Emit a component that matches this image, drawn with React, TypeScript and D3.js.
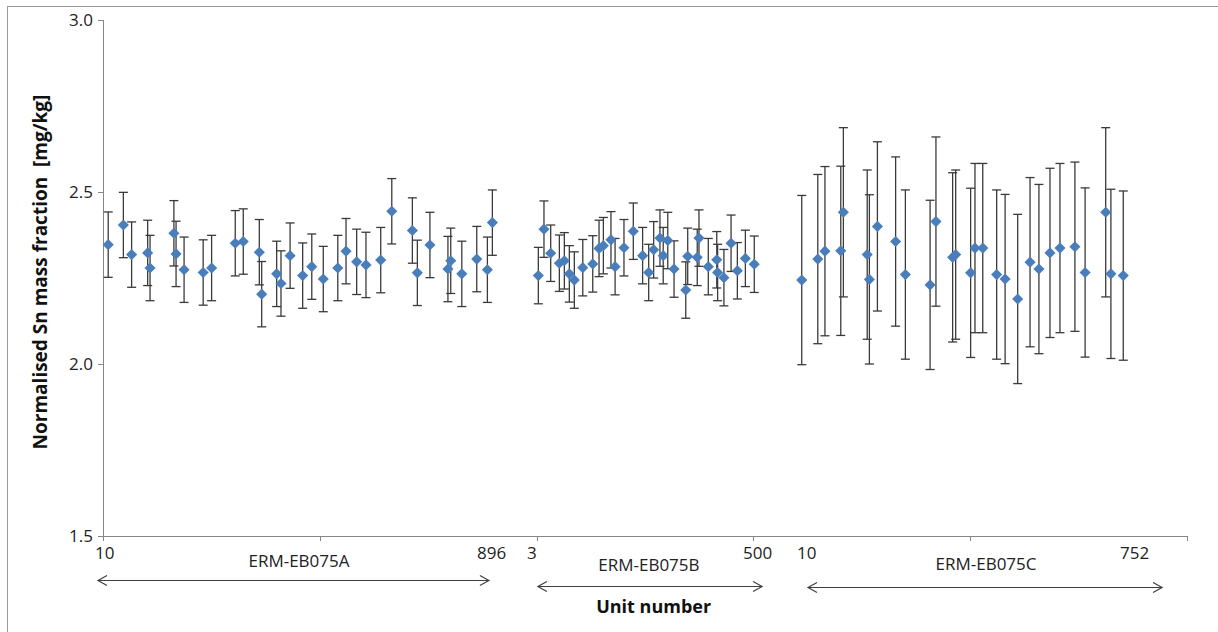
import React, { useRef, useEffect } from "react";
import * as d3 from "d3";

// x positions are in axis units (0..5), y values in mg/kg
const xA = [0.024, 0.094, 0.132, 0.206, 0.217, 0.327, 0.337, 0.374, 0.462, 0.501, 0.61, 0.647, 0.721, 0.732, 0.801, 0.821, 0.863, 0.921, 0.963, 1.016, 1.083, 1.121, 1.17, 1.213, 1.281, 1.332, 1.427, 1.45, 1.508, 1.591, 1.604, 1.655, 1.724, 1.773, 1.796];
const yA = [2.347, 2.404, 2.318, 2.323, 2.279, 2.38, 2.32, 2.274, 2.266, 2.279, 2.351, 2.356, 2.325, 2.203, 2.262, 2.234, 2.315, 2.257, 2.283, 2.247, 2.279, 2.328, 2.297, 2.288, 2.302, 2.444, 2.388, 2.265, 2.346, 2.276, 2.3, 2.262, 2.305, 2.274, 2.411];

const xB = [2.008, 2.034, 2.065, 2.105, 2.128, 2.151, 2.174, 2.213, 2.259, 2.288, 2.308, 2.343, 2.362, 2.403, 2.446, 2.489, 2.517, 2.54, 2.569, 2.584, 2.605, 2.634, 2.688, 2.697, 2.741, 2.749, 2.792, 2.831, 2.835, 2.864, 2.897, 2.926, 2.963, 3.004];
const yB = [2.257, 2.392, 2.322, 2.293, 2.3, 2.262, 2.244, 2.28, 2.291, 2.336, 2.344, 2.361, 2.283, 2.338, 2.386, 2.315, 2.266, 2.332, 2.366, 2.315, 2.359, 2.276, 2.215, 2.313, 2.31, 2.366, 2.283, 2.303, 2.266, 2.251, 2.351, 2.271, 2.307, 2.29];

const xC = [3.223, 3.297, 3.33, 3.403, 3.415, 3.525, 3.535, 3.572, 3.656, 3.701, 3.815, 3.842, 3.919, 3.933, 4.002, 4.022, 4.058, 4.122, 4.161, 4.219, 4.276, 4.317, 4.368, 4.414, 4.483, 4.53, 4.625, 4.649, 4.706];
const yC = [2.244, 2.305, 2.328, 2.329, 2.441, 2.318, 2.246, 2.4, 2.356, 2.26, 2.23, 2.414, 2.31, 2.318, 2.265, 2.337, 2.337, 2.26, 2.247, 2.189, 2.296, 2.276, 2.323, 2.337, 2.341, 2.266, 2.441, 2.262, 2.257];

// uncertainty (half width of error bar) per batch
const errA = 0.095;
const errB = 0.082;
const errC = 0.246;

const yTicks = [1.5, 2.0, 2.5, 3.0];
const xTicks = [0, 1, 2, 3, 4, 5];

const batchNames = ["ERM-EB075A", "ERM-EB075B", "ERM-EB075C"];
const firstUnits = ["10", "3", "10"];
const lastUnits = ["896", "500", "752"];

const App = () => {
  const ref = useRef(null);

  useEffect(() => {
    const svg = d3.select(ref.current);
    svg.selectAll("*").remove();

    const width = 1218;
    const height = 632;
    const font = "'Open Sans', 'Noto Sans', sans-serif";
    const axisColor = "#868686";

    svg.attr("width", width).attr("height", height);

    const x = d3.scaleLinear().domain([0, 5]).range([103, 1187]);
    const y = d3.scaleLinear().domain([1.5, 3.0]).range([536, 20]);

    // chart border
    svg
      .append("rect")
      .attr("x", 7.5)
      .attr("y", 6.5)
      .attr("width", 1300)
      .attr("height", 700)
      .attr("fill", "white")
      .attr("stroke", "#9a9a9a");

    // y axis
    svg
      .append("line")
      .attr("x1", x(0) + 0.5)
      .attr("x2", x(0) + 0.5)
      .attr("y1", y(3.0))
      .attr("y2", y(1.5))
      .attr("stroke", axisColor);

    svg
      .append("g")
      .selectAll("line")
      .data(yTicks)
      .join("line")
      .attr("x1", x(0) - 5)
      .attr("x2", x(0))
      .attr("y1", (d) => Math.round(y(d)) + 0.5)
      .attr("y2", (d) => Math.round(y(d)) + 0.5)
      .attr("stroke", axisColor);

    svg
      .append("g")
      .selectAll("text")
      .data(yTicks)
      .join("text")
      .attr("x", x(0) - 10)
      .attr("y", (d) => y(d))
      .attr("dy", "0.35em")
      .attr("text-anchor", "end")
      .attr("font-family", font)
      .attr("font-size", 17)
      .attr("fill", "#222")
      .text((d) => d.toFixed(1));

    // x axis
    svg
      .append("line")
      .attr("x1", x(0))
      .attr("x2", x(5))
      .attr("y1", y(1.5) + 0.5)
      .attr("y2", y(1.5) + 0.5)
      .attr("stroke", axisColor);

    svg
      .append("g")
      .selectAll("line")
      .data(xTicks)
      .join("line")
      .attr("x1", (d) => Math.round(x(d)) + 0.5)
      .attr("x2", (d) => Math.round(x(d)) + 0.5)
      .attr("y1", y(1.5))
      .attr("y2", y(1.5) + 5)
      .attr("stroke", axisColor);

    const batches = [
      { xs: xA, ys: yA, err: errA },
      { xs: xB, ys: yB, err: errB },
      { xs: xC, ys: yC, err: errC },
    ];

    const points = batches.flatMap((b) =>
      b.xs.map((xv, i) => ({ x: xv, y: b.ys[i], err: b.err }))
    );

    // error bars
    const bars = svg.append("g").attr("stroke", "#3a3a3a").attr("stroke-width", 1.3);
    points.forEach((p) => {
      const cx = x(p.x);
      const top = y(p.y + p.err);
      const bot = y(p.y - p.err);
      bars.append("line").attr("x1", cx).attr("x2", cx).attr("y1", top).attr("y2", bot);
      bars.append("line").attr("x1", cx - 4.5).attr("x2", cx + 4.5).attr("y1", top).attr("y2", top);
      bars.append("line").attr("x1", cx - 4.5).attr("x2", cx + 4.5).attr("y1", bot).attr("y2", bot);
    });

    // diamond markers
    const diamond = d3.symbol().type(d3.symbolSquare).size(62);
    svg
      .append("g")
      .selectAll("path")
      .data(points)
      .join("path")
      .attr("d", diamond)
      .attr("transform", (d) => `translate(${x(d.x)},${y(d.y)}) rotate(45)`)
      .attr("fill", "#4a7ebb");

    // batch annotations below the axis
    const notes = [
      { first: -0.037, last: 1.725, mid: 0.904, a0: -0.023, a1: 1.78, labelY: 567, arrowY: 580 },
      { first: 1.956, last: 2.952, mid: 2.518, a0: 2.006, a1: 3.04, labelY: 571, arrowY: 586 },
      { first: 3.201, last: 4.691, mid: 4.073, a0: 3.252, a1: 4.885, labelY: 570, arrowY: 587 },
    ];

    const ann = svg.append("g").attr("font-family", font).attr("font-size", 17).attr("fill", "#222");
    notes.forEach((n, i) => {
      ann.append("text").attr("x", x(n.first)).attr("y", 559).text(firstUnits[i]);
      ann.append("text").attr("x", x(n.last)).attr("y", 559).text(lastUnits[i]);
      ann
        .append("text")
        .attr("x", x(n.mid))
        .attr("y", n.labelY)
        .attr("text-anchor", "middle")
        .text(batchNames[i]);

      const x0 = x(n.a0);
      const x1 = x(n.a1);
      const ay = n.arrowY + 0.5;
      const g = svg.append("g").attr("stroke", "#404040").attr("fill", "none").attr("stroke-width", 1.2);
      g.append("line").attr("x1", x0).attr("x2", x1).attr("y1", ay).attr("y2", ay);
      g.append("path").attr("d", `M${x0 + 9},${ay - 5}L${x0},${ay}L${x0 + 9},${ay + 5}`);
      g.append("path").attr("d", `M${x1 - 9},${ay - 5}L${x1},${ay}L${x1 - 9},${ay + 5}`);
    });

    // axis titles
    svg
      .append("text")
      .attr("x", x(2.54))
      .attr("y", 613)
      .attr("text-anchor", "middle")
      .attr("font-family", font)
      .attr("font-size", 18)
      .attr("font-weight", "bold")
      .attr("fill", "#111")
      .text("Unit number");

    svg
      .append("text")
      .attr("transform", `translate(40,${(y(3.0) + y(1.5)) / 2 - 6}) rotate(-90)`)
      .attr("text-anchor", "middle")
      .attr("dy", "0.35em")
      .attr("font-family", font)
      .attr("font-size", 19)
      .attr("font-weight", "bold")
      .attr("fill", "#111")
      .style("white-space", "pre")
      .text("Normalised Sn mass fraction  [mg/kg]");
  }, []);

  return <svg ref={ref} style={{ position: "absolute", left: 0, top: 0 }}></svg>;
};

export default App;
